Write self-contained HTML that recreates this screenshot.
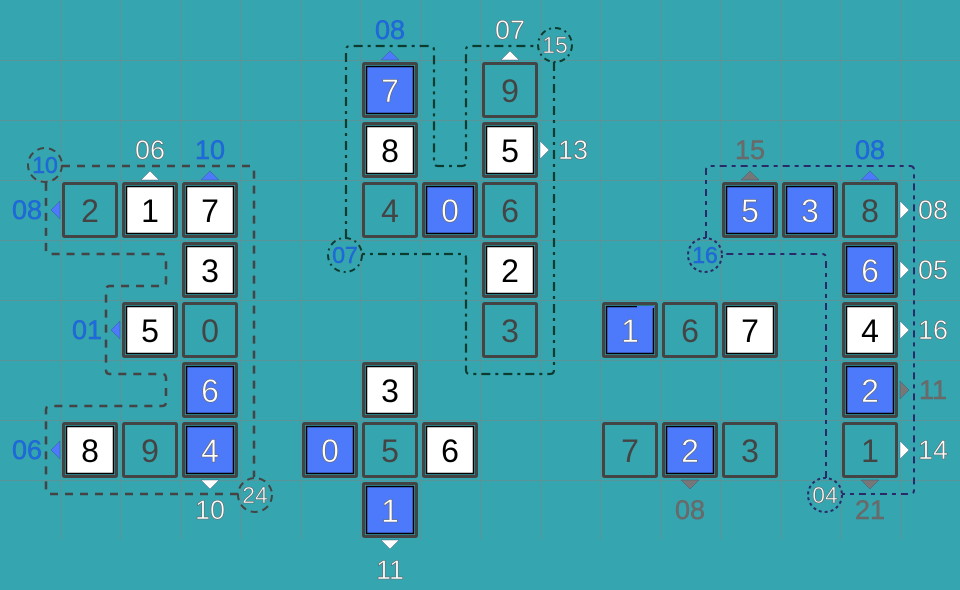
<!DOCTYPE html>
<html><head><meta charset="utf-8"><style>
html,body{margin:0;padding:0;background:#35a5b0}
svg{display:block}
text{font-family:"Liberation Sans",sans-serif;text-anchor:middle}
.d{font-size:32px}
.l{font-size:27px}
.c{font-size:23px}
.p{fill:#444}
.w{fill:#fff;stroke:#666;stroke-width:.6}
.k{fill:#000}
.b{fill:#1a6ae6;stroke:#2a66b8;stroke-width:.5}
.g{fill:#6a6a6a;stroke:#666;stroke-width:.4}
.grid{stroke:#5a9499;stroke-width:1;fill:none}
.tile{fill:none;stroke:#444;stroke-width:3}
.in{stroke:#000;stroke-width:1.5}
</style></head><body>
<svg width="960" height="590" viewBox="0 0 960 590" xmlns="http://www.w3.org/2000/svg">
<defs>
<g id="P"><rect x="3.5" y="3.5" width="53" height="53" rx="1" class="tile"/></g>
<g id="W"><rect x="3.5" y="3.5" width="53" height="53" rx="1" class="tile"/><rect x="6.5" y="6.5" width="47" height="47" fill="#fff" class="in"/></g>
<g id="B"><rect x="3.5" y="3.5" width="53" height="53" rx="1" class="tile"/><rect x="6.5" y="6.5" width="47" height="47" fill="#4d79fb" class="in"/></g>
<path id="au" d="M-9 0L0-9L9 0Z" stroke="#3a4a70" stroke-width=".4"/>
<path id="ad" d="M-9 0L0 9L9 0Z" stroke="#3a4a70" stroke-width=".4"/>
<path id="al" d="M0-9L-9 0L0 9Z" stroke="#3a4a70" stroke-width=".4"/>
<path id="ar" d="M0-9L9 0L0 9Z" stroke="#3a4a70" stroke-width=".4"/>
</defs>
<rect width="960" height="590" fill="#35a5b0"/>
<path class="grid" d="M60.5 0V540M120.5 0V540M180.5 0V540M240.5 0V540M300.5 0V540M360.5 0V540M420.5 0V540M480.5 0V540M540.5 0V540M600.5 0V540M660.5 0V540M720.5 0V540M780.5 0V540M840.5 0V540M900.5 0V540M0 60.5H960M0 120.5H960M0 180.5H960M0 240.5H960M0 300.5H960M0 360.5H960M0 420.5H960M0 480.5H960"/>

<!-- loops -->
<g fill="none" stroke="#444" stroke-width="2.5" stroke-dasharray="8 7">
<path d="M62 166H250Q254 166 254 170V477"/>
<path d="M238 494H50Q46 494 46 490V410Q46 406 50 406H162Q166 406 166 402V378Q166 374 162 374H110Q106 374 106 370V290Q106 286 110 286H162Q166 286 166 282V258Q166 254 162 254H50Q46 254 46 250V182"/>
<circle cx="45" cy="165" r="17" stroke-width="2" stroke-dasharray="7 5"/>
<circle cx="255" cy="495" r="17" stroke-width="2" stroke-dasharray="7 5"/>
</g>
<g fill="none" stroke="#0c3c30" stroke-width="2.2" stroke-dasharray="9 5 3 5">
<path d="M346 238V50Q346 46 350 46H430Q434 46 434 50V162Q434 166 438 166H462Q466 166 466 162V50Q466 46 470 46H538"/>
<path d="M554 62V370Q554 374 550 374H470Q466 374 466 370V258Q466 254 462 254H362"/>
<circle cx="345" cy="255" r="17" stroke-width="2" stroke-dasharray="6 4 2 4"/>
<circle cx="555" cy="45" r="17" stroke-width="2" stroke-dasharray="6 4 2 4"/>
</g>
<g fill="none" stroke="#2a2a68" stroke-width="2" stroke-dasharray="7 5 4 5">
<path d="M706 238V170Q706 166 710 166H910Q914 166 914 170V490Q914 494 910 494H842"/>
<path d="M826 478V258Q826 254 822 254H722"/>
<circle cx="705" cy="255" r="17" stroke-dasharray="3 3"/>
<circle cx="825" cy="495" r="17" stroke-dasharray="3 3"/>
</g>

<!-- tiles -->
<use href="#P" x="60" y="180"/><use href="#W" x="120" y="180"/><use href="#W" x="180" y="180"/><use href="#W" x="180" y="240"/><use href="#W" x="120" y="300"/><use href="#P" x="180" y="300"/><use href="#B" x="180" y="360"/><use href="#W" x="60" y="420"/><use href="#P" x="120" y="420"/><use href="#B" x="180" y="420"/>
<use href="#B" x="360" y="60"/><use href="#W" x="360" y="120"/><use href="#P" x="360" y="180"/><use href="#B" x="420" y="180"/><use href="#P" x="480" y="60"/><use href="#W" x="480" y="120"/><use href="#P" x="480" y="180"/><use href="#W" x="480" y="240"/><use href="#P" x="480" y="300"/><use href="#W" x="360" y="360"/><use href="#B" x="300" y="420"/><use href="#P" x="360" y="420"/><use href="#W" x="420" y="420"/><use href="#B" x="360" y="480"/>
<use href="#B" x="720" y="180"/><use href="#B" x="780" y="180"/><use href="#P" x="840" y="180"/><use href="#B" x="840" y="240"/><use href="#W" x="840" y="300"/><use href="#B" x="840" y="360"/><use href="#P" x="840" y="420"/><use href="#B" x="600" y="300"/><use href="#P" x="660" y="300"/><use href="#W" x="720" y="300"/><use href="#P" x="600" y="420"/><use href="#B" x="660" y="420"/><use href="#P" x="720" y="420"/>
<rect x="637" y="306" width="17" height="2" fill="#4d79fb"/>

<!-- arrows -->
<use href="#au" x="150" y="180" fill="#fff"/><use href="#au" x="210" y="180" fill="#4d79fb"/><use href="#al" x="60" y="210" fill="#4d79fb"/><use href="#al" x="120" y="330" fill="#4d79fb"/><use href="#al" x="60" y="450" fill="#4d79fb"/><use href="#ad" x="210" y="480" fill="#fff"/>
<use href="#au" x="390" y="60" fill="#4d79fb"/><use href="#au" x="510" y="60" fill="#fff"/><use href="#ar" x="540" y="150" fill="#fff"/><use href="#ad" x="390" y="540" fill="#fff"/>
<use href="#au" x="750" y="180" fill="#777"/><use href="#au" x="870" y="180" fill="#4d79fb"/><use href="#ar" x="900" y="210" fill="#fff"/><use href="#ar" x="900" y="270" fill="#fff"/><use href="#ar" x="900" y="330" fill="#fff"/><use href="#ar" x="900" y="390" fill="#777"/><use href="#ar" x="900" y="450" fill="#fff"/><use href="#ad" x="690" y="480" fill="#777"/><use href="#ad" x="870" y="480" fill="#777"/>

<!-- tile digits -->
<g class="d">
<text x="90" y="222" class="p">2</text><text x="150" y="222" class="k">1</text><text x="210" y="222" class="k">7</text><text x="210" y="282" class="k">3</text><text x="150" y="342" class="k">5</text><text x="210" y="342" class="p">0</text><text x="210" y="402" class="w">6</text><text x="90" y="462" class="k">8</text><text x="150" y="462" class="p">9</text><text x="210" y="462" class="w">4</text>
<text x="390" y="102" class="w">7</text><text x="390" y="162" class="k">8</text><text x="390" y="222" class="p">4</text><text x="450" y="222" class="w">0</text><text x="510" y="102" class="p">9</text><text x="510" y="162" class="k">5</text><text x="510" y="222" class="p">6</text><text x="510" y="282" class="k">2</text><text x="510" y="342" class="p">3</text><text x="390" y="402" class="k">3</text><text x="330" y="462" class="w">0</text><text x="390" y="462" class="p">5</text><text x="450" y="462" class="k">6</text><text x="390" y="522" class="w">1</text>
<text x="750" y="222" class="w">5</text><text x="810" y="222" class="w">3</text><text x="870" y="222" class="p">8</text><text x="870" y="282" class="w">6</text><text x="870" y="342" class="k">4</text><text x="870" y="402" class="w">2</text><text x="870" y="462" class="p">1</text><text x="630" y="342" class="w">1</text><text x="690" y="342" class="p">6</text><text x="750" y="342" class="k">7</text><text x="630" y="462" class="p">7</text><text x="690" y="462" class="w">2</text><text x="750" y="462" class="p">3</text>
</g>

<!-- outer labels -->
<g class="l">
<text x="150" y="159" class="w">06</text><text x="210" y="159" class="b">10</text><text x="27" y="219" class="b">08</text><text x="87" y="339" class="b">01</text><text x="27" y="459" class="b">06</text><text x="210" y="519" class="w">10</text>
<text x="390" y="39" class="b">08</text><text x="510" y="39" class="w">07</text><text x="573" y="159" class="w">13</text><text x="390" y="579" class="w">11</text>
<text x="750" y="159" class="g">15</text><text x="870" y="159" class="b">08</text><text x="933" y="219" class="w">08</text><text x="933" y="279" class="w">05</text><text x="933" y="339" class="w">16</text><text x="933" y="399" class="g">11</text><text x="933" y="459" class="w">14</text><text x="690" y="519" class="g">08</text><text x="870" y="519" class="g">21</text>
</g>

<!-- circle labels -->
<g class="c">
<text x="45" y="173" class="b">10</text><text x="255" y="503" class="w">24</text><text x="345" y="263" class="b">07</text><text x="555" y="53" class="w">15</text><text x="705" y="263" class="b">16</text><text x="825" y="503" class="w">04</text>
</g>
</svg>
</body></html>
